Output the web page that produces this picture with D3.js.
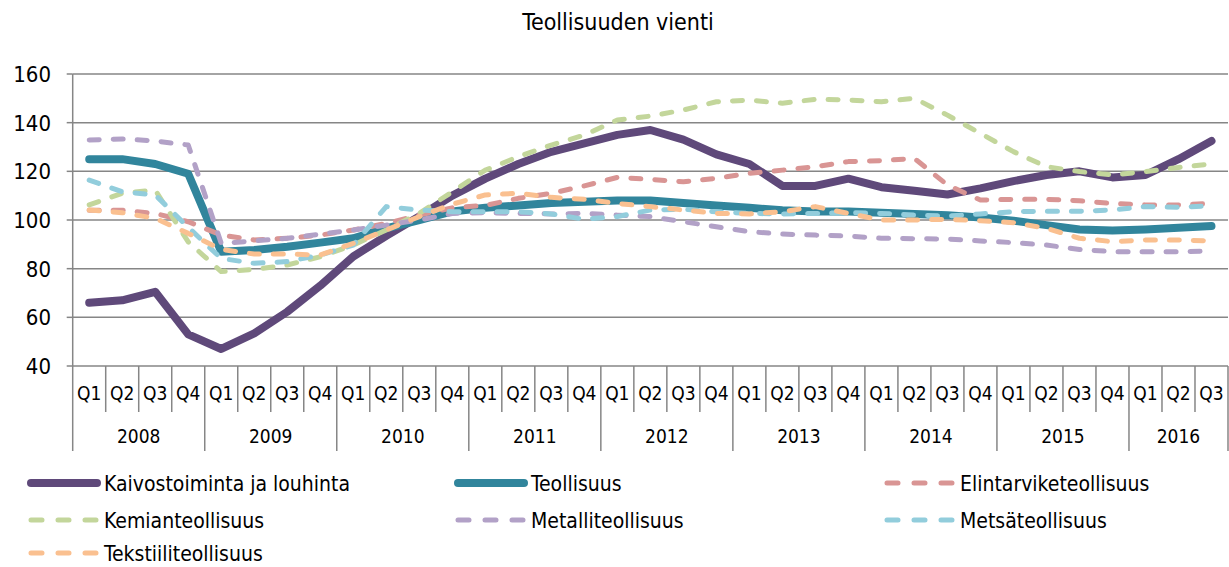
<!DOCTYPE html>
<html><head><meta charset="utf-8">
<script src="https://cdn.jsdelivr.net/npm/d3@7"></script>
<style>
body{margin:0;background:#fff;}
text{font-family:"Liberation Sans Narrow","DejaVu Sans Condensed","Arial Narrow",sans-serif;fill:#000;}
</style></head>
<body><svg id="c" width="1229" height="567"></svg>
<script>
const title = "Teollisuuden vienti";
const years = ["2008","2009","2010","2011","2012","2013","2014","2015","2016"];
const quarters = ["Q1","Q2","Q3","Q4"];
const yTicks = [40,60,80,100,120,140,160];
const seriesNames = ["Kaivostoiminta ja louhinta","Teollisuus","Elintarviketeollisuus","Kemianteollisuus","Metalliteollisuus","Metsäteollisuus","Tekstiiliteollisuus"];
const kaivos = [66,67,70.5,53,47,53.4,62.3,73,85,93.5,101.5,110,117,123,128,131.5,135,137,133,127,123,114,114,117,113.5,112,110.5,113,116,118.5,120,117.5,118.5,125,132.5];
const teollisuus = [125,125,123,119,87,87.7,89,90.7,92.5,96.6,100,103.5,105,106,107,107.5,108,108,107,106,105,104,103.5,103.5,103,102.5,102,101,99.7,97.9,96.1,95.7,96.1,96.8,97.5];
const elintarvike = [104,104,102.7,99.3,93.8,91.8,92.5,93.8,95.9,98.6,102,105,106,108.9,111,114,117.5,116.7,115.7,117.1,119.2,120.5,121.9,124,124.4,125.3,114.4,108.2,108.5,108.5,107.9,106.8,106.2,106.2,106.8];
const kemian = [106.2,111,112.3,91,78.8,79.7,81.5,84.9,89.7,95.9,102.7,111.6,120.5,126,130.8,134.9,141.1,142.7,145.2,148.6,149.3,148,149.6,149.3,148.6,150,143.1,135.6,128.1,121.9,119.9,118.5,119.9,121.6,123];
const metalli = [132.9,133.3,132.5,130.8,90.4,91.4,92.5,94.2,95.9,97.9,100,102.7,103,102.7,102.5,102.7,102,101.4,99.3,97.2,95.2,94.2,93.8,93.4,92.5,92.3,92.2,91.4,90.7,89.7,87.9,87,87,87,87.2];
const metsa = [116.4,111.6,110.3,97,84.2,82.2,82.9,85.6,89.7,105.5,104.1,103.4,103.4,103.4,102.5,100.3,101.4,104.1,104.4,103.4,102.7,102.5,102.7,103,102.7,102,101.6,102.5,103.4,103.6,103.6,104.1,105.5,105.2,105.9];
const tekstiili = [104.1,103,100.7,94.5,87.9,86,86,85.6,90.4,95.9,101.4,106.5,110.3,111,109.3,108.5,106.8,105.5,104.1,102.7,102.5,103.4,105.5,102.7,100,100,100.3,99.7,98.9,96.6,92.5,91.1,91.8,91.8,91.4];
const colors = ["#5f497a","#31859c","#d99594","#c3d69b","#b2a1c7","#92cddc","#fac090"];
const solid = [true,true,false,false,false,false,false];
const allValues = [kaivos,teollisuus,elintarvike,kemian,metalli,metsa,tekstiili];

const cats = [];
years.forEach(y => quarters.forEach(q => { if (cats.length < 35) cats.push(y + " " + q); }));

const svg = d3.select("#c");
const L = 72.7, R = 1228, T = 74, B = 366;
const x = d3.scaleBand().domain(cats).range([L, R]);
const y = d3.scaleLinear().domain([40,160]).range([B, T]);

svg.append("text").attr("x", 618).attr("y", 30).attr("text-anchor","middle")
  .style("font-size","23px").text(title);

// gridlines
svg.append("g").selectAll("line").data(yTicks).join("line")
  .attr("x1", L).attr("x2", R).attr("y1", d => y(d)).attr("y2", d => y(d))
  .attr("stroke","#868686").attr("stroke-width",1.5);
svg.append("line").attr("x1",L).attr("x2",L).attr("y1",T).attr("y2",B).attr("stroke","#868686").attr("stroke-width",1.5);
svg.append("g").selectAll("line").data(yTicks).join("line")
  .attr("x1", L-6).attr("x2", L).attr("y1", d => y(d)).attr("y2", d => y(d))
  .attr("stroke","#868686").attr("stroke-width",1.5);
svg.append("g").selectAll("text").data(yTicks).join("text")
  .attr("x", 51).attr("y", d => y(d)).attr("dy","0.36em").attr("text-anchor","end")
  .style("font-size","22px").text(d => d);

// category axis
const gx = svg.append("g");
cats.forEach((c, i) => {
  const x0 = x(c);
  const isYear = i % 4 === 0;
  gx.append("line").attr("x1", x0).attr("x2", x0).attr("y1", B).attr("y2", isYear ? 451 : 412)
    .attr("stroke","#868686").attr("stroke-width",1.5);
  gx.append("text").attr("x", x0 + x.bandwidth()/2).attr("y", 393).attr("dy","0.36em")
    .attr("text-anchor","middle").style("font-size","19px").text(c.split(" ")[1]);
});
gx.append("line").attr("x1", R).attr("x2", R).attr("y1", B).attr("y2", 451).attr("stroke","#868686").attr("stroke-width",1.5);
years.forEach((yr, k) => {
  const first = cats[k*4];
  const last = cats[Math.min(k*4+3, cats.length-1)];
  const cx = (x(first) + x(last) + x.bandwidth())/2;
  gx.append("text").attr("x", cx).attr("y", 436).attr("dy","0.36em").attr("text-anchor","middle")
    .style("font-size","19px").text(yr);
});

const line = d3.line().x((d,i) => x(cats[i]) + x.bandwidth()/2).y(d => y(d));
allValues.forEach((vals, s) => {
  const p = svg.append("path").datum(vals).attr("d", line)
    .attr("fill","none").attr("stroke", colors[s])
    .attr("stroke-width", solid[s] ? 8 : 5)
    .attr("stroke-linejoin","round").attr("stroke-linecap","round");
  if (!solid[s]) p.attr("stroke-dasharray","10,14");
});

// legend
const legPos = [[28,483],[455,483],[884,483],[28,520],[455,520],[884,520],[28,553]];
seriesNames.forEach((n, s) => {
  const [lx, ly] = legPos[s];
  const l = svg.append("line").attr("x1", lx+3).attr("x2", lx+69).attr("y1", ly).attr("y2", ly)
    .attr("stroke", colors[s]).attr("stroke-width", solid[s] ? 8 : 5).attr("stroke-linecap","round");
  if (!solid[s]) l.attr("stroke-dasharray","11,16");
  svg.append("text").attr("x", lx+76).attr("y", ly).attr("dy","0.36em").style("font-size","21px").text(n);
});
</script></body></html>
